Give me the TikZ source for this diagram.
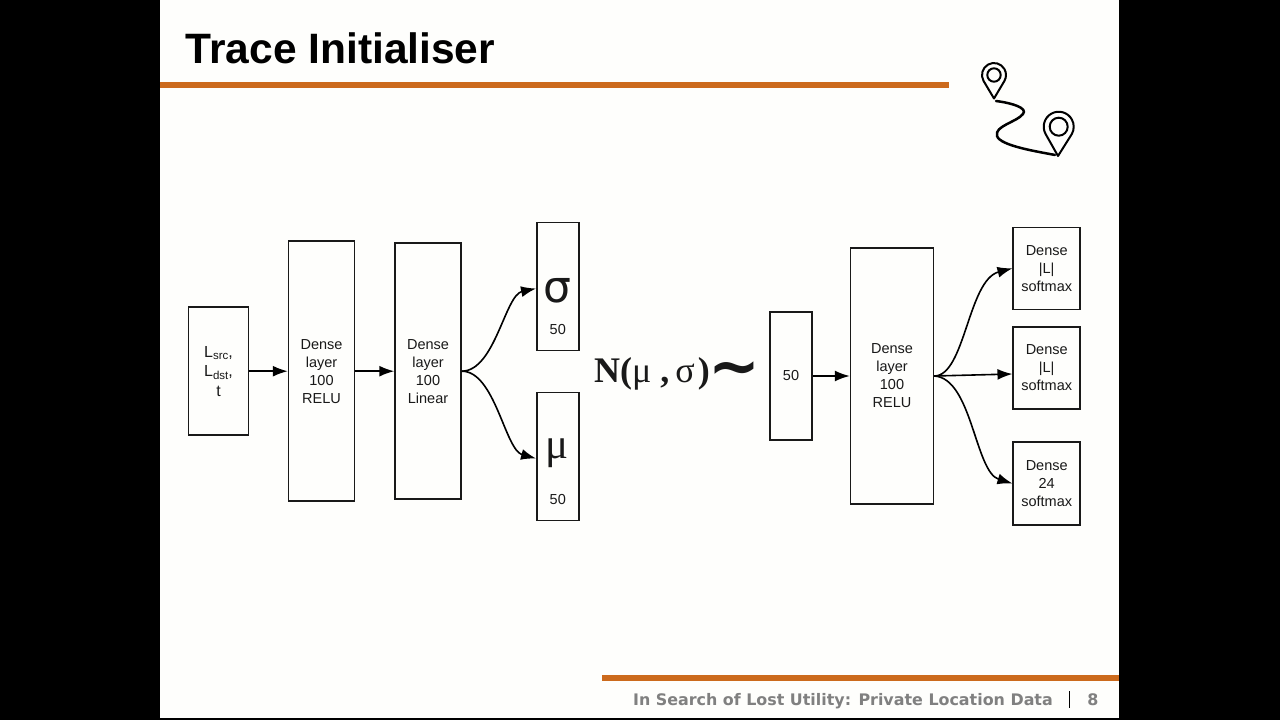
\documentclass[tikz,border=0pt]{standalone}
\usepackage{fontspec}
\setmainfont{Liberation Sans}
\newfontfamily\serifgr{Liberation Serif}
\newfontfamily\sansgr{DejaVu Sans}
\newfontfamily\footfont{DejaVu Sans}
\usetikzlibrary{arrows.meta,calc}
\definecolor{slidebg}{RGB}{254,254,252}
\definecolor{rust}{RGB}{204,106,28}
\definecolor{footgrey}{RGB}{128,128,128}
\definecolor{ink}{RGB}{25,25,25}
\newcommand{\lowsub}[1]{\raisebox{-2.5pt}{\fontsize{11.5}{12}\selectfont #1}}
\tikzset{
  layerbox/.style={draw=ink,line width=1.5pt,fill=none,inner sep=0pt,align=center,font=\fontsize{14.5}{18}\selectfont,text=ink},
  conn/.style={draw=black,line width=1.6pt,-{Latex[length=15pt,width=11pt]}},
  pinline/.style={draw=black,line width=2pt,line join=round},
}
\begin{document}
\begin{tikzpicture}[x=1pt,y=-1pt]
\useasboundingbox (0,0) rectangle (1280,720);
\fill[black] (0,0) rectangle (1280,720);
\fill[slidebg] (160,0) rectangle (1119,718);
\fill[rust] (160,81.5) rectangle (949,87.5);
\fill[rust] (602,674.5) rectangle (1119,680.5);
\node[anchor=base west,inner sep=0pt,font=\fontsize{42.5}{48}\selectfont\bfseries,text=black] (title) at (185.5,63) {Trace Initialiser};
\node[anchor=base east,inner sep=0pt,font=\footfont\fontsize{15.9}{20}\selectfont\bfseries,text=footgrey] (foot) at (1053,705) {In Search of Lost Utility: Private Location Data};
\node[anchor=base,inner sep=0pt,font=\footfont\fontsize{15.9}{20}\selectfont\bfseries,text=footgrey] (page) at (1093,705) {8};
\draw[black,line width=1.8pt] (1069.5,691) -- (1069.5,707.5);

\node[layerbox,minimum width=60,minimum height=128,font=\fontsize{16}{19.5}\selectfont] (inp) at (218.5,371.2) {L\lowsub{src},\\L\lowsub{dst},\\t};
\node[layerbox,minimum width=66,minimum height=260] (d1) at (321.5,371.2) {Dense\\layer\\100\\RELU};
\node[layerbox,minimum width=66,minimum height=256] (d2) at (428,371.2) {Dense\\layer\\100\\Linear};
\node[layerbox,minimum width=42,minimum height=128] (sig) at (557.8,286.5) {};
\node[layerbox,minimum width=42,minimum height=128] (mu) at (557.8,456.5) {};
\node[inner sep=0pt,font=\sansgr\fontsize{44}{44}\selectfont,text=ink] (siglab) at (557,291) {σ};
\node[inner sep=0pt,font=\fontsize{14.5}{18}\selectfont,text=ink] (sig50) at (557.8,330) {50};
\node[inner sep=0pt,font=\serifgr\fontsize{43}{43}\selectfont,text=ink] (mulab) at (557,453) {μ};
\node[inner sep=0pt,font=\fontsize{14.5}{18}\selectfont,text=ink] (mu50) at (557.8,500) {50};
\node[anchor=base west,inner sep=0pt,font=\serifgr\fontsize{36}{36}\selectfont,text=ink] (dist) at (594,382) {\textbf{N(}μ\hspace{9pt}\textbf{,}\hspace{6pt}σ\hspace{3pt}\textbf{)}};
\node[inner sep=0pt,font=\footfont\fontsize{62}{62}\selectfont\bfseries,text=ink] (tilde) at (734,375) {∼};
\node[layerbox,minimum width=42,minimum height=128] (z) at (791,376) {50};
\node[layerbox,minimum width=83,minimum height=256] (d3) at (892,376) {Dense\\layer\\100\\RELU};
\node[layerbox,minimum width=67,minimum height=82] (o1) at (1046.7,268.3) {Dense\\|L|\\softmax};
\node[layerbox,minimum width=67,minimum height=82] (o2) at (1046.7,368) {Dense\\|L|\\softmax};
\node[layerbox,minimum width=67,minimum height=83] (o3) at (1046.7,483.5) {Dense\\24\\softmax};

\draw[conn] (inp.east) -- (d1.west);
\draw[conn] (d1.east) -- (d2.west);
\draw[conn] (d2.east) .. controls (495,371) and (505,295) .. ([yshift=-2]sig.west);
\draw[conn] (d2.east) .. controls (495,371) and (505,450) .. ([yshift=-2]mu.west);
\draw[conn] (z.east) -- (d3.west);
\draw[conn] (d3.east) .. controls (965,376) and (968,280) .. (o1.west);
\draw[conn] (d3.east) -- ([yshift=-6]o2.west);
\draw[conn] (d3.east) .. controls (972,378) and (975,472) .. (o3.west);

% location pins
\draw[pinline] (994,75) circle (6.7);
\draw[pinline] (983.6,81) arc[start angle=210,end angle=-30,x radius=12,y radius=-12] -- (994,98.5) -- cycle;
\draw[pinline] (1058.7,126.7) circle (9);
\draw[pinline] (1045.6,134) arc[start angle=209,end angle=-29,x radius=15,y radius=-15] -- (1058,156) -- cycle;
\draw[pinline,line width=2.5pt,line cap=round] (996,101) .. controls (1012,103) and (1028,108) .. (1023,114) .. controls (1017,122) and (994,126) .. (997,136) .. controls (1000,146) and (1040,152) .. (1055,155);
\end{tikzpicture}
\end{document}
